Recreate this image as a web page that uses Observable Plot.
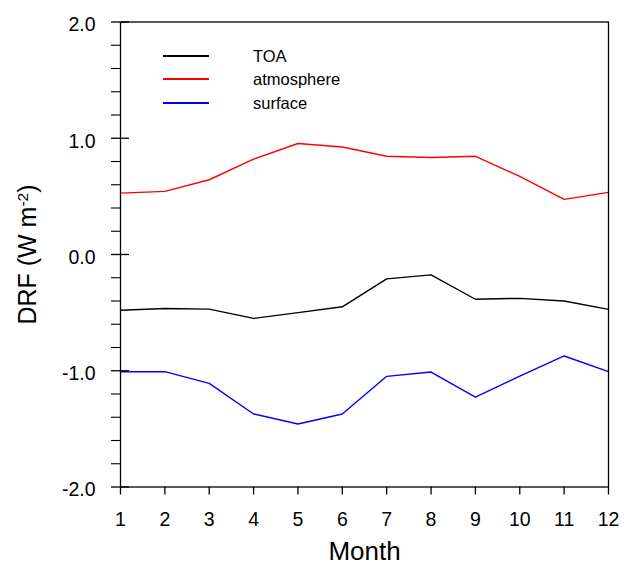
<!DOCTYPE html>
<html><head><meta charset="utf-8">
<script src="https://cdn.jsdelivr.net/npm/d3@7"></script>
<script src="https://cdn.jsdelivr.net/npm/@observablehq/plot@0.6"></script>
<style>
body{margin:0;background:#fff;font-family:"Liberation Sans",Arial,Helvetica,sans-serif}
#wrap{position:relative;width:628px;height:566px}
#legend{position:absolute;left:163px;top:44px}
.item{display:flex;align-items:center;height:23.5px}
.sw{display:inline-block;width:46px;height:2px;margin-right:44px}
.lab{font-size:16.5px;color:#000;line-height:1}
</style></head><body>
<div id="wrap"><div id="chart"></div><div id="legend"></div></div>
<script>
const months = [1, 2, 3, 4, 5, 6, 7, 8, 9, 10, 11, 12];
const toa = [-0.48, -0.465, -0.47, -0.55, -0.50, -0.45, -0.21, -0.175, -0.385, -0.377, -0.40, -0.472];
const atmosphere = [0.528, 0.543, 0.643, 0.82, 0.955, 0.925, 0.845, 0.835, 0.845, 0.672, 0.474, 0.534];
const surface = [-1.008, -1.008, -1.108, -1.372, -1.458, -1.372, -1.048, -1.011, -1.226, -1.046, -0.873, -1.008];
const seriesNames = ["TOA", "atmosphere", "surface"];
const seriesColors = ["#000000", "#ff0000", "#0000ff"];
const yMajorTicks = [-2, -1, 0, 1, 2];
const yMinorTicks = [-1.8, -1.6, -1.4, -1.2, -0.8, -0.6, -0.4, -0.2, 0.2, 0.4, 0.6, 0.8, 1.2, 1.4, 1.6, 1.8];
const xLabel = "Month";
const yLabel = "DRF (W m-2)";

const seriesValues = [toa, atmosphere, surface];
const rows = seriesNames.flatMap((s, j) => months.map((m, i) => ({month: m, value: seriesValues[j][i], series: s})));

const chart = Plot.plot({
  width: 628, height: 566,
  marginLeft: 120, marginRight: 20, marginTop: 21.5, marginBottom: 79.5,
  style: {fontFamily: "'Liberation Sans', Arial, sans-serif", background: "white", color: "black", overflow: "visible"},
  x: {domain: [1, 12]},
  y: {domain: [-2, 2]},
  color: {domain: seriesNames, range: seriesColors},
  marks: [
    Plot.line(rows, {x: "month", y: "value", z: "series", stroke: "series", strokeWidth: 1.4}),
    Plot.frame({stroke: "black", strokeWidth: 1.3}),
    Plot.axisY({ticks: yMajorTicks, tickSize: 9, tickFormat: () => "", label: null, strokeWidth: 1.3}),
    Plot.axisY({ticks: yMajorTicks, tickSize: 0, tickPadding: 25, dy: 3, tickFormat: d => d.toFixed(1), fontSize: 19.5, label: null}),
    Plot.axisY({ticks: yMajorTicks, anchor: "right", frameAnchor: "left", tickSize: 8, tickFormat: () => "", label: null, strokeWidth: 1.3}),
    Plot.axisY({ticks: yMinorTicks, tickSize: 9, tickFormat: () => "", label: null, strokeWidth: 1.1}),
    Plot.axisX({ticks: months, tickSize: 8, tickPadding: 17, tickFormat: d => String(d), fontSize: 19.5, label: null, strokeWidth: 1.3}),
    Plot.text([xLabel], {frameAnchor: "bottom", lineAnchor: "middle", dy: 65, fontSize: 26}),
    Plot.text([yLabel], {frameAnchor: "left", lineAnchor: "middle", dx: -93, rotate: -90, textAnchor: "middle", fontSize: 25})
  ]
});
document.getElementById("chart").appendChild(chart);

d3.select(chart).selectAll("text").filter(function() { return this.textContent === yLabel; })
  .each(function() {
    const t = d3.select(this);
    t.text("");
    t.append("tspan").text("DRF (W m");
    t.append("tspan").attr("dy", "-0.5em").attr("font-size", "0.62em").text("-2");
    t.append("tspan").attr("dy", "0.31em").text(")");
  });

const legend = d3.select("#legend");
seriesNames.forEach((s, i) => {
  const item = legend.append("div").attr("class", "item");
  item.append("span").attr("class", "sw").style("background", seriesColors[i]);
  item.append("span").attr("class", "lab").text(s);
});
</script>
</body></html>
